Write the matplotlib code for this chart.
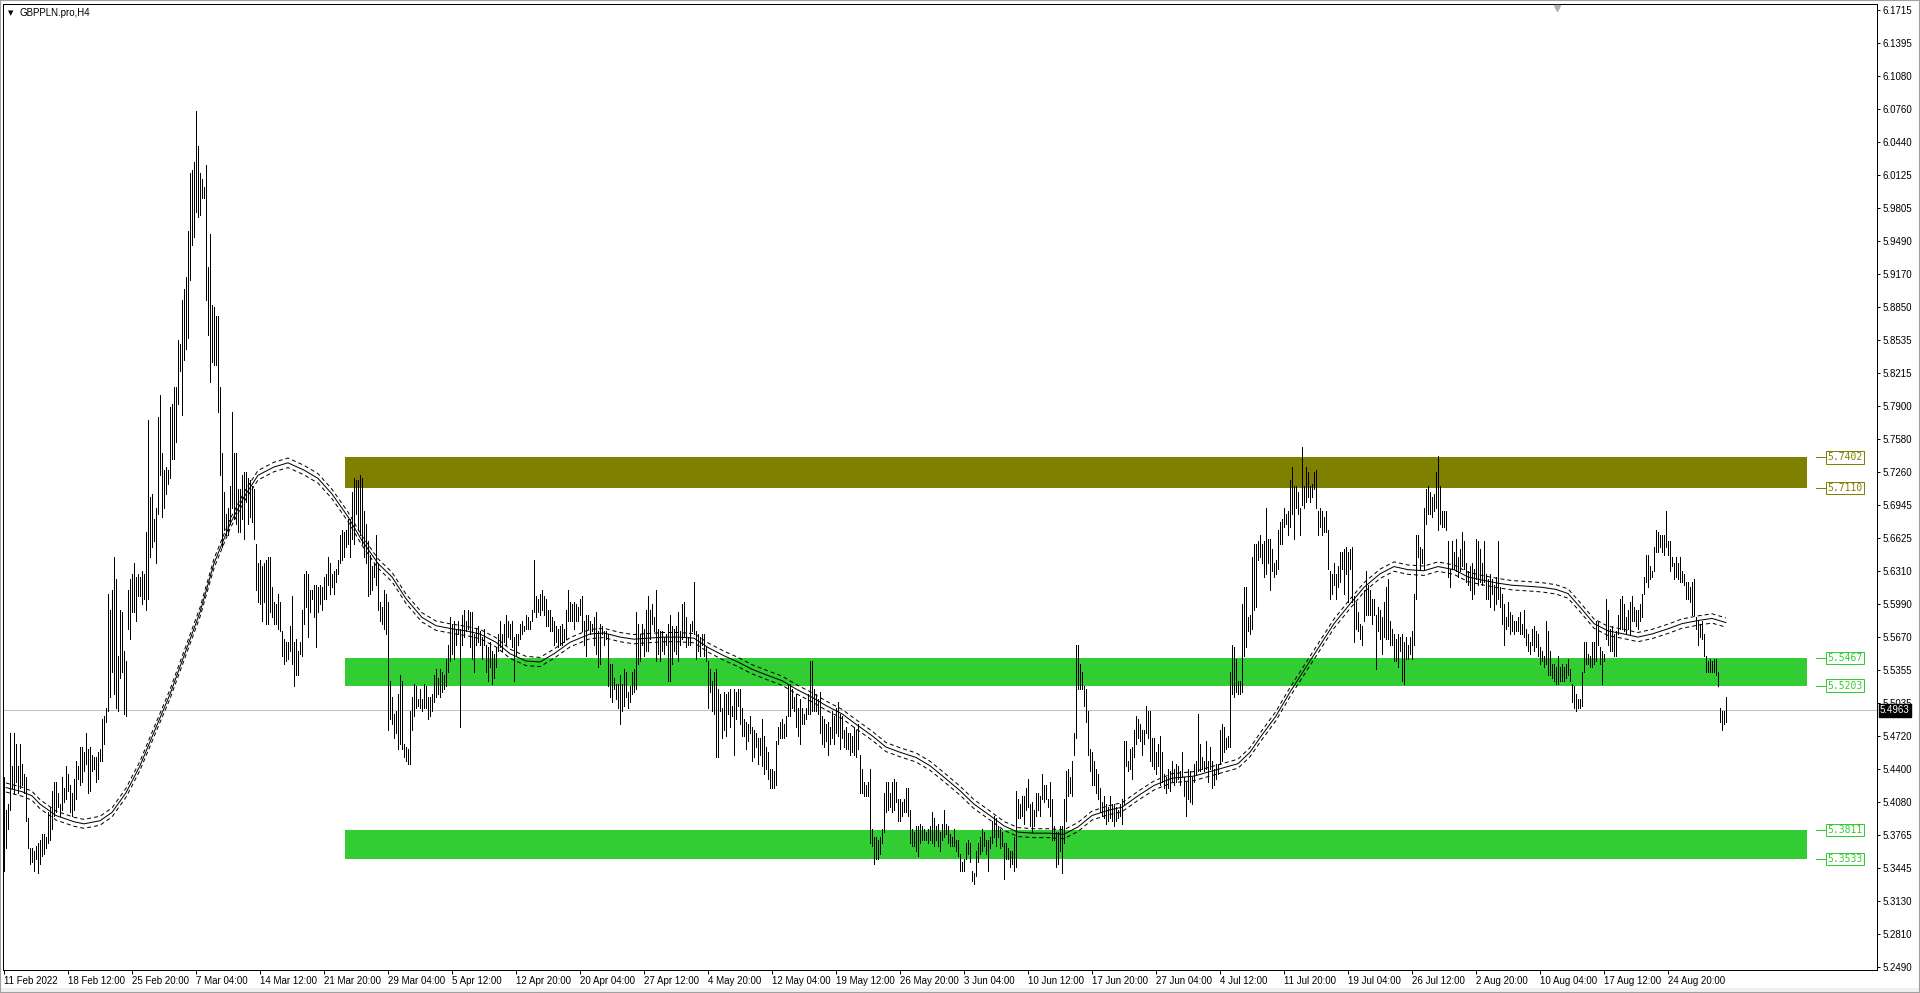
import matplotlib
matplotlib.use('Agg')
import matplotlib.pyplot as plt
import matplotlib.transforms as mtransforms
from matplotlib.patches import Rectangle
import numpy as np

plt.rcParams['font.family'] = ['Liberation Sans', 'DejaVu Sans']

symbol = 'GBPPLN.pro,H4'

# H4 bars, high / low per bar
high = [
    5.432, 5.400, 5.406, 5.475, 5.443, 5.475, 5.464, 5.443, 5.464, 5.445,
    5.435, 5.432, 5.393, 5.364, 5.364, 5.361, 5.366, 5.369, 5.371, 5.377,
    5.377, 5.374, 5.398, 5.403, 5.419, 5.427, 5.427, 5.417, 5.406, 5.432,
    5.422, 5.443, 5.435, 5.424, 5.417, 5.430, 5.448, 5.443, 5.461, 5.461,
    5.456, 5.475, 5.459, 5.461, 5.453, 5.451, 5.451, 5.456, 5.459, 5.488,
    5.491, 5.499, 5.609, 5.593, 5.612, 5.644, 5.623, 5.549, 5.593, 5.591,
    5.554, 5.544, 5.612, 5.623, 5.628, 5.638, 5.625, 5.628, 5.625, 5.631,
    5.628, 5.668, 5.776, 5.702, 5.705, 5.681, 5.691, 5.779, 5.800, 5.744,
    5.728, 5.731, 5.728, 5.789, 5.792, 5.808, 5.808, 5.853, 5.850, 5.892,
    5.903, 5.914, 5.958, 6.014, 6.017, 6.025, 6.074, 6.040, 6.014, 6.009,
    6.001, 6.022, 5.924, 5.956, 5.887, 5.885, 5.877, 5.877, 5.808, 5.744,
    5.707, 5.686, 5.691, 5.713, 5.784, 5.744, 5.744, 5.710, 5.710, 5.723,
    5.726, 5.726, 5.720, 5.718, 5.713, 5.710, 5.657, 5.638, 5.641, 5.636,
    5.638, 5.641, 5.644, 5.644, 5.615, 5.601, 5.599, 5.609, 5.601, 5.573,
    5.565, 5.562, 5.562, 5.578, 5.607, 5.562, 5.565, 5.554, 5.562, 5.593,
    5.628, 5.631, 5.628, 5.612, 5.612, 5.617, 5.617, 5.615, 5.617, 5.615,
    5.625, 5.628, 5.644, 5.638, 5.628, 5.631, 5.633, 5.641, 5.665, 5.670,
    5.668, 5.670, 5.681, 5.681, 5.707, 5.720, 5.718, 5.718, 5.723, 5.720,
    5.689, 5.676, 5.660, 5.646, 5.636, 5.638, 5.665, 5.638, 5.601, 5.596,
    5.612, 5.609, 5.601, 5.525, 5.509, 5.493, 5.496, 5.512, 5.530, 5.525,
    5.464, 5.461, 5.459, 5.496, 5.509, 5.522, 5.520, 5.507, 5.517, 5.507,
    5.522, 5.520, 5.509, 5.509, 5.512, 5.530, 5.536, 5.528, 5.536, 5.533,
    5.530, 5.546, 5.559, 5.586, 5.580, 5.583, 5.575, 5.583, 5.575, 5.588,
    5.593, 5.583, 5.593, 5.591, 5.591, 5.570, 5.575, 5.578, 5.573, 5.567,
    5.575, 5.559, 5.557, 5.562, 5.554, 5.551, 5.557, 5.570, 5.583, 5.570,
    5.580, 5.588, 5.583, 5.580, 5.583, 5.567, 5.570, 5.570, 5.580, 5.583,
    5.578, 5.588, 5.586, 5.583, 5.593, 5.641, 5.607, 5.604, 5.609, 5.612,
    5.607, 5.604, 5.593, 5.593, 5.586, 5.583, 5.578, 5.575, 5.578, 5.580,
    5.575, 5.593, 5.612, 5.601, 5.599, 5.601,
    # late April - June
    5.599, 5.596, 5.604, 5.607, 5.583, 5.588, 5.588, 5.583, 5.580, 5.586,
    5.591, 5.573, 5.580, 5.578, 5.573, 5.573, 5.570, 5.541, 5.541, 5.528,
    5.522, 5.522, 5.530, 5.522, 5.536, 5.533, 5.514, 5.520, 5.533, 5.536,
    5.591, 5.580, 5.570, 5.580, 5.575, 5.593, 5.607, 5.593, 5.599, 5.586,
    5.612, 5.575, 5.573, 5.573, 5.567, 5.570, 5.580, 5.588, 5.578, 5.575,
    5.578, 5.591, 5.573, 5.599, 5.601, 5.586, 5.567, 5.580, 5.583, 5.620,
    5.573, 5.570, 5.567, 5.570, 5.570, 5.557, 5.544, 5.536, 5.525,
    5.533, 5.536, 5.517, 5.512, 5.499, 5.514, 5.512, 5.514, 5.517, 5.501,
    5.517, 5.514, 5.517, 5.517, 5.499, 5.488, 5.485, 5.483, 5.491, 5.480,
    5.477, 5.475, 5.470, 5.470, 5.488, 5.472, 5.461, 5.456, 5.440, 5.440,
    5.438, 5.467, 5.480, 5.485, 5.488, 5.483, 5.491,
    5.522, 5.522,
    5.517, 5.509, 5.512, 5.499, 5.507, 5.499, 5.493, 5.499, 5.512, 5.544,
    5.544, 5.517, 5.512, 5.507, 5.514, 5.491, 5.488, 5.483, 5.485, 5.480,
    5.496, 5.491, 5.499, 5.504, 5.493, 5.491, 5.477, 5.480, 5.475, 5.475,
    5.472, 5.480, 5.477, 5.483, 5.453, 5.440, 5.427, 5.424, 5.427, 5.440,
    5.382, 5.374, 5.374, 5.371, 5.374, 5.382, 5.417, 5.427, 5.427, 5.417,
    5.427, 5.430, 5.427, 5.411, 5.411, 5.408, 5.411, 5.422, 5.422, 5.400,
    5.382, 5.379, 5.385, 5.385, 5.387, 5.385, 5.382, 5.379, 5.382, 5.385,
    5.398, 5.393, 5.385, 5.387, 5.379, 5.387, 5.400, 5.387, 5.385, 5.377,
    5.374, 5.382, 5.371, 5.371, 5.358, 5.350,
    5.353, 5.369, 5.371,
    5.369, 5.342, 5.340, 5.361, 5.369, 5.374, 5.382, 5.379, 5.371, 5.371,
    5.374, 5.390, 5.395, 5.393, 5.385, 5.382, 5.379, 5.369, 5.369, 5.364,
    5.361, 5.361, 5.374, 5.419, 5.411, 5.406, 5.414, 5.414, 5.422, 5.430,
    5.406, 5.408, 5.400, 5.417, 5.417, 5.414, 5.435, 5.424, 5.424, 5.411,
    5.427, 5.411, 5.385, 5.379, 5.379, 5.385, 5.385, 5.411, 5.438, 5.440,
    5.432, 5.448, 5.475, 5.559, 5.559, 5.541, 5.533, 5.520, 5.517, 5.496,
    5.459, 5.456, 5.448, 5.440, 5.435, 5.422, 5.408, 5.414, 5.406, 5.403,
    5.414, 5.406, 5.406, 5.403, 5.400, 5.406, 5.411, 5.467, 5.467, 5.448,
    5.459, 5.461, 5.477, 5.491, 5.488, 5.483, 5.477, 5.477, 5.501, 5.496,
    5.496, 5.470,
    # July - August
    5.470, 5.456, 5.464, 5.472, 5.456, 5.435, 5.432, 5.440, 5.438, 5.448,
    5.440, 5.445, 5.443, 5.438, 5.456, 5.432, 5.427, 5.440, 5.438, 5.432,
    5.445, 5.448, 5.493, 5.464, 5.451, 5.448, 5.467, 5.448, 5.461, 5.448,
    5.440, 5.445, 5.445, 5.477, 5.483, 5.480, 5.470, 5.472, 5.533, 5.559,
    5.557, 5.546, 5.525, 5.525, 5.599, 5.615, 5.615, 5.586, 5.588, 5.644,
    5.657, 5.657, 5.660, 5.665, 5.657, 5.660, 5.691, 5.662, 5.662, 5.652,
    5.638, 5.641, 5.670, 5.678, 5.681, 5.691, 5.686, 5.689, 5.718, 5.731,
    5.713, 5.713, 5.707, 5.691, 5.750, 5.713, 5.731, 5.726, 5.713, 5.715,
    5.726, 5.728, 5.689, 5.691, 5.689, 5.683, 5.689, 5.670, 5.631, 5.628,
    5.638, 5.628, 5.636, 5.649, 5.649, 5.652, 5.654, 5.649, 5.652, 5.654,
    5.607, 5.601, 5.591, 5.580, 5.578, 5.612, 5.631, 5.617, 5.612, 5.604,
    5.604, 5.588, 5.596, 5.593, 5.586, 5.601, 5.615, 5.623, 5.583, 5.575,
    5.570, 5.565, 5.570, 5.567, 5.570, 5.562, 5.567, 5.559, 5.567, 5.573,
    5.609, 5.665, 5.665, 5.654, 5.652, 5.691, 5.710, 5.713, 5.707, 5.702,
    5.705, 5.726, 5.742, 5.713, 5.689, 5.689, 5.689, 5.660, 5.633, 5.660,
    5.649, 5.662, 5.644, 5.652, 5.668, 5.660, 5.638, 5.631, 5.636, 5.638,
    5.633, 5.662, 5.660, 5.652, 5.638, 5.660, 5.628, 5.623, 5.628, 5.623,
    5.617, 5.625, 5.660, 5.615, 5.609, 5.599, 5.586, 5.601, 5.591, 5.588,
    5.583, 5.583, 5.586, 5.591, 5.580, 5.593, 5.575, 5.570, 5.562, 5.575,
    5.578, 5.573, 5.570, 5.557, 5.554, 5.549, 5.583, 5.573, 5.554, 5.541,
    5.541, 5.538, 5.549, 5.538, 5.541, 5.538, 5.541, 5.546, 5.536, 5.522,
    5.520, 5.512, 5.507, 5.507, 5.533, 5.562, 5.562, 5.551, 5.549, 5.562,
    5.562, 5.583, 5.583, 5.557, 5.554, 5.551, 5.604, 5.593, 5.575, 5.578,
    5.570, 5.573, 5.588, 5.604, 5.607, 5.599, 5.586, 5.593, 5.601, 5.607,
    5.596, 5.593, 5.593, 5.599, 5.609, 5.625, 5.646, 5.646, 5.636, 5.631,
    5.654, 5.670, 5.668, 5.665, 5.665, 5.665, 5.689, 5.660, 5.660, 5.644,
    5.638, 5.644, 5.638, 5.644, 5.631, 5.628, 5.620, 5.620, 5.615, 5.620,
    5.623, 5.586, 5.583, 5.580, 5.583, 5.570, 5.549, 5.544, 5.546, 5.544,
    5.546, 5.546, 5.533, 5.499, 5.496, 5.496, 5.509,
]

low = [
    5.342, 5.364, 5.382, 5.400, 5.422, 5.417, 5.427, 5.417, 5.422, 5.424,
    5.417, 5.390, 5.364, 5.348, 5.350, 5.342, 5.353, 5.340, 5.348, 5.356,
    5.358, 5.364, 5.369, 5.371, 5.382, 5.395, 5.398, 5.403, 5.395, 5.400,
    5.408, 5.411, 5.419, 5.398, 5.395, 5.400, 5.411, 5.430, 5.424, 5.427,
    5.438, 5.445, 5.417, 5.419, 5.438, 5.440, 5.427, 5.430, 5.448, 5.448,
    5.464, 5.485, 5.496, 5.509, 5.533, 5.512, 5.499, 5.496, 5.528, 5.533,
    5.493, 5.491, 5.575, 5.565, 5.591, 5.591, 5.583, 5.607, 5.607, 5.599,
    5.604, 5.593, 5.604, 5.644, 5.654, 5.660, 5.638, 5.686, 5.723, 5.683,
    5.691, 5.705, 5.715, 5.720, 5.739, 5.739, 5.755, 5.792, 5.824, 5.781,
    5.834, 5.845, 5.855, 5.911, 5.945, 5.953, 5.977, 5.972, 5.974, 5.990,
    5.990, 5.892, 5.858, 5.813, 5.832, 5.829, 5.829, 5.784, 5.723, 5.654,
    5.670, 5.665, 5.665, 5.676, 5.691, 5.681, 5.676, 5.668, 5.668, 5.681,
    5.662, 5.697, 5.676, 5.683, 5.678, 5.662, 5.612, 5.601, 5.599, 5.583,
    5.601, 5.580, 5.580, 5.591, 5.586, 5.580, 5.580, 5.575, 5.573, 5.549,
    5.541, 5.544, 5.546, 5.554, 5.541, 5.520, 5.530, 5.530, 5.551, 5.549,
    5.580, 5.596, 5.567, 5.591, 5.604, 5.586, 5.557, 5.591, 5.599, 5.593,
    5.604, 5.604, 5.617, 5.609, 5.615, 5.609, 5.620, 5.628, 5.638, 5.641,
    5.644, 5.654, 5.657, 5.644, 5.662, 5.657, 5.686, 5.670, 5.665, 5.657,
    5.644, 5.638, 5.607, 5.609, 5.612, 5.625, 5.617, 5.593, 5.583, 5.580,
    5.575, 5.570, 5.477, 5.488, 5.483, 5.470, 5.475, 5.459, 5.464, 5.459,
    5.451, 5.448, 5.445, 5.445, 5.477, 5.491, 5.499, 5.501, 5.499, 5.496,
    5.499, 5.499, 5.488, 5.491, 5.496, 5.504, 5.509, 5.512, 5.509, 5.514,
    5.517, 5.520, 5.533, 5.544, 5.551, 5.546, 5.559, 5.570, 5.480, 5.559,
    5.567, 5.573, 5.575, 5.557, 5.546, 5.533, 5.559, 5.562, 5.559, 5.546,
    5.559, 5.533, 5.525, 5.538, 5.522, 5.528, 5.538, 5.554, 5.557, 5.554,
    5.562, 5.559, 5.567, 5.565, 5.557, 5.525, 5.549, 5.559, 5.565, 5.570,
    5.573, 5.575, 5.575, 5.575, 5.583, 5.591, 5.586, 5.591, 5.588, 5.593,
    5.588, 5.578, 5.578, 5.573, 5.573, 5.559, 5.562, 5.557, 5.559, 5.559,
    5.562, 5.565, 5.583, 5.583, 5.583, 5.575,
    # late April - June
    5.583, 5.583, 5.588, 5.573, 5.559, 5.549, 5.575, 5.570, 5.573, 5.559,
    5.551, 5.538, 5.541, 5.570, 5.559, 5.565, 5.520, 5.509, 5.504, 5.517,
    5.507, 5.499, 5.483, 5.496, 5.501, 5.509, 5.499, 5.504, 5.512, 5.514,
    5.517, 5.541, 5.544, 5.559, 5.549, 5.554, 5.554, 5.565, 5.580, 5.573,
    5.544, 5.551, 5.544, 5.554, 5.551, 5.559, 5.525, 5.525, 5.541, 5.554,
    5.551, 5.544, 5.559, 5.565, 5.567, 5.557, 5.559, 5.559, 5.573, 5.570,
    5.546, 5.554, 5.549, 5.559, 5.549, 5.544, 5.499, 5.514, 5.496,
    5.493, 5.451, 5.451, 5.496, 5.470, 5.477, 5.472, 5.493, 5.480, 5.491,
    5.453, 5.488, 5.501, 5.483, 5.472, 5.472, 5.459, 5.467, 5.475, 5.448,
    5.451, 5.461, 5.445, 5.453, 5.443, 5.435, 5.440, 5.430, 5.422, 5.422,
    5.422, 5.424, 5.464, 5.470, 5.470, 5.470, 5.472,
    5.491, 5.491,
    5.499, 5.496, 5.480, 5.472, 5.464, 5.483, 5.483, 5.488, 5.493, 5.493,
    5.496, 5.496, 5.496, 5.493, 5.475, 5.464, 5.461, 5.467, 5.453, 5.464,
    5.470, 5.464, 5.475, 5.472, 5.459, 5.470, 5.461, 5.459, 5.459, 5.453,
    5.456, 5.453, 5.451, 5.459, 5.417, 5.417, 5.414, 5.414, 5.414, 5.369,
    5.366, 5.348, 5.353, 5.353, 5.358, 5.369, 5.379, 5.398, 5.400, 5.403,
    5.398, 5.400, 5.408, 5.390, 5.390, 5.395, 5.398, 5.398, 5.395, 5.369,
    5.366, 5.366, 5.361, 5.356, 5.369, 5.371, 5.371, 5.371, 5.369, 5.371,
    5.369, 5.366, 5.371, 5.366, 5.361, 5.371, 5.374, 5.377, 5.369, 5.366,
    5.366, 5.366, 5.361, 5.356, 5.342, 5.342,
    5.342, 5.353, 5.358,
    5.350, 5.332, 5.329, 5.337, 5.350, 5.358, 5.361, 5.366, 5.358, 5.342,
    5.364, 5.369, 5.374, 5.366, 5.374, 5.364, 5.366, 5.334, 5.353, 5.353,
    5.345, 5.348, 5.342, 5.345, 5.393, 5.393, 5.395, 5.387, 5.400, 5.403,
    5.385, 5.379, 5.385, 5.395, 5.400, 5.395, 5.411, 5.408, 5.411, 5.403,
    5.395, 5.371, 5.371, 5.345, 5.348, 5.361, 5.340, 5.369, 5.390, 5.414,
    5.417, 5.414, 5.453, 5.470, 5.517, 5.517, 5.517, 5.501, 5.485, 5.453,
    5.438, 5.424, 5.424, 5.417, 5.411, 5.398, 5.395, 5.393, 5.387, 5.390,
    5.393, 5.390, 5.385, 5.390, 5.393, 5.395, 5.387, 5.406, 5.443, 5.438,
    5.440, 5.430, 5.451, 5.464, 5.470, 5.467, 5.453, 5.464, 5.475, 5.470,
    5.448, 5.443,
    # July - August
    5.440, 5.435, 5.443, 5.424, 5.427, 5.422, 5.417, 5.422, 5.419, 5.427,
    5.424, 5.427, 5.430, 5.424, 5.432, 5.414, 5.395, 5.411, 5.408, 5.406,
    5.427, 5.435, 5.438, 5.438, 5.440, 5.438, 5.440, 5.427, 5.440, 5.422,
    5.424, 5.430, 5.435, 5.445, 5.448, 5.456, 5.459, 5.461, 5.461, 5.512,
    5.509, 5.514, 5.512, 5.512, 5.514, 5.549, 5.557, 5.573, 5.570, 5.575,
    5.593, 5.596, 5.641, 5.644, 5.638, 5.625, 5.628, 5.638, 5.612, 5.631,
    5.625, 5.628, 5.633, 5.657, 5.657, 5.673, 5.676, 5.665, 5.673, 5.686,
    5.662, 5.691, 5.686, 5.665, 5.694, 5.691, 5.697, 5.702, 5.697, 5.702,
    5.710, 5.691, 5.665, 5.673, 5.665, 5.668, 5.668, 5.633, 5.604, 5.609,
    5.617, 5.604, 5.615, 5.620, 5.633, 5.609, 5.628, 5.601, 5.633, 5.601,
    5.562, 5.575, 5.573, 5.565, 5.559, 5.583, 5.588, 5.588, 5.588, 5.580,
    5.588, 5.536, 5.573, 5.565, 5.551, 5.567, 5.565, 5.565, 5.559, 5.559,
    5.544, 5.544, 5.538, 5.554, 5.525, 5.522, 5.546, 5.546, 5.551, 5.546,
    5.559, 5.604, 5.644, 5.633, 5.638, 5.633, 5.676, 5.686, 5.686, 5.683,
    5.689, 5.691, 5.670, 5.676, 5.673, 5.673, 5.670, 5.625, 5.615, 5.633,
    5.633, 5.631, 5.625, 5.631, 5.636, 5.633, 5.620, 5.617, 5.612, 5.604,
    5.609, 5.623, 5.617, 5.620, 5.617, 5.620, 5.604, 5.604, 5.596, 5.609,
    5.593, 5.599, 5.604, 5.596, 5.580, 5.559, 5.575, 5.578, 5.570, 5.573,
    5.570, 5.573, 5.573, 5.570, 5.570, 5.567, 5.559, 5.554, 5.551, 5.559,
    5.554, 5.557, 5.549, 5.541, 5.544, 5.538, 5.541, 5.530, 5.530, 5.528,
    5.525, 5.522, 5.522, 5.525, 5.525, 5.525, 5.528, 5.530, 5.525, 5.504,
    5.499, 5.496, 5.499, 5.499, 5.501, 5.533, 5.541, 5.541, 5.538, 5.538,
    5.541, 5.544, 5.559, 5.541, 5.522, 5.544, 5.565, 5.559, 5.554, 5.554,
    5.549, 5.549, 5.570, 5.575, 5.575, 5.573, 5.570, 5.575, 5.570, 5.583,
    5.583, 5.578, 5.575, 5.583, 5.586, 5.609, 5.620, 5.615, 5.623, 5.625,
    5.631, 5.649, 5.649, 5.654, 5.649, 5.646, 5.654, 5.646, 5.631, 5.636,
    5.623, 5.625, 5.623, 5.620, 5.620, 5.617, 5.604, 5.604, 5.601, 5.588,
    5.588, 5.575, 5.559, 5.567, 5.565, 5.549, 5.533, 5.533, 5.533, 5.533,
    5.533, 5.530, 5.520, 5.485, 5.477, 5.483, 5.485,
]

# moving average (solid) read at sample bars; envelopes drawn at +-env_dev %
ma_bar = [1, 9, 14, 18, 26, 35, 40, 48, 54, 61, 68, 76, 83, 90, 98, 105, 113, 120, 127, 135,
          142, 150, 157, 164, 172, 179, 187, 194, 201, 209, 216, 224, 231, 238, 246, 253, 261, 268, 275, 283,
          293, 300, 308, 315, 322, 330, 337, 345, 352, 360, 367, 374, 382, 389, 396, 404, 411, 419, 426, 434,
          441, 448, 456, 463, 470, 478, 485, 493, 500, 507, 515, 522, 530, 537, 544, 552, 559, 567, 575, 584,
          595, 606, 617, 623, 628, 636, 643, 651, 658, 665, 673, 680, 688, 695, 702, 710, 717, 725, 732, 739,
          747, 754, 762, 769, 776, 782, 788, 795, 802, 810, 817, 824, 832, 839, 847, 854, 861]
ma_val = [5.422, 5.418, 5.414, 5.406, 5.395, 5.389, 5.387, 5.390, 5.398, 5.417,
          5.443, 5.480, 5.512, 5.549, 5.591, 5.638, 5.676, 5.702, 5.723, 5.731,
          5.735, 5.728, 5.720, 5.705, 5.683, 5.660, 5.638, 5.625, 5.604, 5.586,
          5.578, 5.575, 5.573, 5.570, 5.562, 5.551, 5.544, 5.543, 5.551, 5.562,
          5.570, 5.571, 5.567, 5.565, 5.566, 5.567, 5.567, 5.566, 5.557, 5.549,
          5.543, 5.536, 5.530, 5.525, 5.517, 5.509, 5.501, 5.493, 5.483, 5.472,
          5.461, 5.456, 5.451, 5.443, 5.432, 5.419, 5.406, 5.395, 5.385, 5.379,
          5.378, 5.378, 5.377, 5.384, 5.395, 5.400, 5.403, 5.414, 5.424, 5.431,
          5.433, 5.439, 5.445, 5.456, 5.470, 5.491, 5.514, 5.538, 5.559, 5.580,
          5.599, 5.615, 5.628, 5.635, 5.632, 5.631, 5.635, 5.632, 5.625, 5.622,
          5.619, 5.617, 5.616, 5.615, 5.613, 5.609, 5.596, 5.580, 5.573, 5.570,
          5.567, 5.570, 5.575, 5.580, 5.583, 5.585, 5.581]
env_dev = 0.08

last_price = 5.4963

zone_low = [5.7110, 5.5203, 5.3533]
zone_high = [5.7402, 5.5467, 5.3811]
zone_colors = ['#808000', '#32cd32', '#32cd32']

price_ticks = [6.1715, 6.1395, 6.1080, 6.0760, 6.0440, 6.0125, 5.9805, 5.9490, 5.9170, 5.8850,
               5.8535, 5.8215, 5.7900, 5.7580, 5.7260, 5.6945, 5.6625, 5.6310, 5.5990, 5.5670,
               5.5355, 5.5035, 5.4720, 5.4400, 5.4080, 5.3765, 5.3445, 5.3130, 5.2810, 5.2490]

date_labels = ['11 Feb 2022', '18 Feb 12:00', '25 Feb 20:00', '7 Mar 04:00', '14 Mar 12:00',
               '21 Mar 20:00', '29 Mar 04:00', '5 Apr 12:00', '12 Apr 20:00', '20 Apr 04:00',
               '27 Apr 12:00', '4 May 20:00', '12 May 04:00', '19 May 12:00', '26 May 20:00',
               '3 Jun 04:00', '10 Jun 12:00', '17 Jun 20:00', '27 Jun 04:00', '4 Jul 12:00',
               '11 Jul 20:00', '19 Jul 04:00', '26 Jul 12:00', '2 Aug 20:00', '10 Aug 04:00',
               '17 Aug 12:00', '24 Aug 20:00']
bars_per_label = 32

# ---- figure ----
W, H = 1920, 993
px = 0.72  # one pixel in points
fig = plt.figure(figsize=(W / 100, H / 100), dpi=100)
fig.add_artist(Rectangle((0, 0), 1, 5 / H, transform=fig.transFigure,
                         fc='#f0f0f0', ec='none', zorder=-5))
fig.add_artist(Rectangle((0, 0), 1, 1, transform=fig.transFigure, fill=False,
                         ec='#a0a0a0', lw=1.5))

ax = fig.add_axes([3 / W, 23 / H, 1874 / W, 966 / H])
ax.set_xlim(-0.5, 936.5)
ax.set_ylim(5.2461, 6.1773)

n = len(high)
idx = np.arange(n)

# zones
zone_x0, zone_x1 = 170.5, 901.5
for lo, hi, c in zip(zone_low, zone_high, zone_colors):
    ax.fill_between([zone_x0, zone_x1], lo, hi, color=c, lw=0, zorder=1)
    for p in (hi, lo):
        ax.plot([906, 911], [p, p], color=c, lw=px, clip_on=False, zorder=6)
        ax.text(911.6, p, f'{p:.4f}', color=c, fontsize=7, family='DejaVu Sans Mono',
                va='center', ha='left', zorder=7, clip_on=False,
                bbox=dict(boxstyle='square,pad=0.12', fc='white', ec=c, lw=px))

ax.axhline(last_price, color='#c0c0c0', lw=px, zorder=2)

ax.vlines(idx, low, high, colors='black', linewidth=px, antialiased=False, zorder=3)

ma = np.array(ma_val)
ax.plot(ma_bar, ma, color='black', lw=px, zorder=4)
for k in (1, -1):
    ax.plot(ma_bar, ma * (1 + k * env_dev / 100), color='black', lw=px,
            dashes=(4, 3), zorder=4)

# axes styling
for s in ax.spines.values():
    s.set_linewidth(px)
    s.set_color('black')

ax.yaxis.tick_right()
ax.set_yticks(price_ticks)
ax.set_yticklabels([f'{v:.4f}' for v in price_ticks])
ax.tick_params(axis='y', length=3 * px, width=px, pad=1.5, labelsize=7, colors='black')

ax.set_xticks(np.arange(len(date_labels)) * bars_per_label)
ax.set_xticklabels(date_labels)
for lab in ax.get_xticklabels():
    lab.set_ha('left')
ax.tick_params(axis='x', length=4 * px, width=px, pad=1.5, labelsize=7, colors='black')

# current price label
tr = mtransforms.blended_transform_factory(ax.transAxes, ax.transData)
ax.text(1.0016, last_price, f'{last_price:.4f}', transform=tr, color='white', fontsize=7,
        va='center', ha='left', zorder=10, clip_on=False,
        bbox=dict(boxstyle='square,pad=0.15', fc='black', ec='black'))

# chart title
fig.text(8 / W, 1 - 13 / H, '\u25bc', fontsize=5, family='DejaVu Sans', va='center', ha='left')
fig.text(20 / W, 1 - 13 / H, symbol, fontsize=7, va='center', ha='left')

# shift marker at the top
ax.plot([(1557 - 3) / 1874], [0.996], marker='v', color='#b0b0b0', markersize=5,
        transform=ax.transAxes, clip_on=False, zorder=8)

fig.savefig('out.png', dpi=100)
